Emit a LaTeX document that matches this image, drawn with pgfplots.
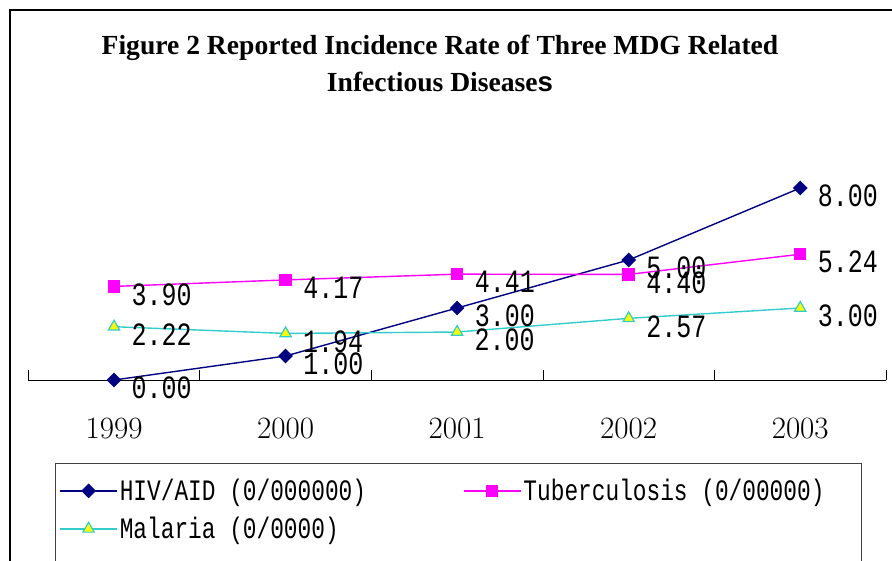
\documentclass[border=0pt]{standalone}
\usepackage{fontspec}
\usepackage{pgfplots}
\pgfplotsset{compat=1.18}
\newfontfamily\monofont{Liberation Mono}
\newfontfamily\serifont{Liberation Serif}
\newfontfamily\sansfont{Liberation Sans}
\definecolor{hivcol}{HTML}{000080}
\definecolor{tbcol}{HTML}{FF00FF}
\definecolor{malcol}{HTML}{33CCCC}
\definecolor{malfill}{HTML}{FFFF00}
\newcommand{\tall}[1]{\scalebox{1}[1.3]{#1}}
\begin{document}
\begin{tikzpicture}[x=1pt,y=1pt]
\path[use as bounding box] (0,0) rectangle (892,-560);
\clip (0,0) rectangle (892,-560);
\draw[line width=1.5pt] (10,-600) -- (10,-10) -- (950,-10);
\node[font=\serifont\bfseries\fontsize{27.6}{37}\selectfont, align=center] at (440,-63) {Figure 2 Reported Incidence Rate of Three MDG Related\\Infectious Disease{\sansfont s}};
\begin{axis}[
  at={(28.25pt,-380pt)}, anchor=south west,
  scale only axis, width=857.75pt, height=240pt,
  xmin=-0.5, xmax=4.5, ymin=0, ymax=10,
  axis y line=none, axis x line*=bottom,
  x axis line style={-, line width=0.9pt},
  xtick={0,1,2,3,4}, xticklabels={1999,2000,2001,2002,2003},
  major tick length=0pt,
  minor xtick={-0.5,0.5,1.5,2.5,3.5,4.5}, minor tick length=10pt, tick align=inside,
  tick style={black, line width=0.8pt},
  xticklabel style={font=\fontsize{31}{31}\selectfont, yshift=-34pt},
  ytick=\empty,
  clip=false,
  nodes near coords={\tall{\pgfplotspointmeta}}, point meta=explicit symbolic,
  every node near coord/.append style={anchor=west, inner sep=0pt, xshift=17pt, yshift=-8pt, text=black, font=\monofont\fontsize{25}{25}\selectfont},
  legend columns=2,
  legend cell align=left,
  legend style={at={(0.0312,-0.3458)}, anchor=north west, draw=black!75, line width=0.8pt,
    font=\monofont\fontsize{22.8}{22.8}\selectfont, inner xsep=4pt, inner ysep=14pt, row sep=11pt,
    /tikz/every even column/.append style={column sep=95pt}},
  legend image code/.code={\draw[mark repeat=2,mark phase=2,#1] plot coordinates {(0pt,0pt) (28.5pt,0pt) (57pt,0pt)};},
]
\addplot[color=hivcol, line width=1.4pt, mark=square*, mark size=4.5pt, mark options={rotate=45, fill=hivcol, solid}]
  coordinates {(0,0)[0.00] (1,1)[1.00] (2,3)[3.00] (3,5)[5.00] (4,8)[8.00]};
\addlegendentry{\tall{HIV/AID (0/000000)}}
\addplot[color=tbcol, line width=1.4pt, mark=square*, mark size=5.5pt, mark options={fill=tbcol, solid}]
  coordinates {(0,3.90)[3.90] (1,4.17)[4.17] (2,4.41)[4.41] (3,4.40)[4.40] (4,5.24)[5.24]};
\addlegendentry{\makebox[332pt][l]{\tall{Tuberculosis (0/00000)}}}
\addplot[color=malcol, line width=1.4pt, mark=triangle*, mark size=6.5pt, mark options={fill=malfill, draw=malcol, line width=1.2pt, solid}]
  coordinates {(0,2.22)[2.22] (1,1.94)[1.94] (2,2.00)[2.00] (3,2.57)[2.57] (4,3.00)[3.00]};
\addlegendentry{\tall{Malaria (0/0000)}}
\addlegendimage{empty legend}\addlegendentry{\strut}
\addlegendimage{empty legend}\addlegendentry{\strut}
\addlegendimage{empty legend}\addlegendentry{\strut}
\end{axis}
\end{tikzpicture}
\end{document}
